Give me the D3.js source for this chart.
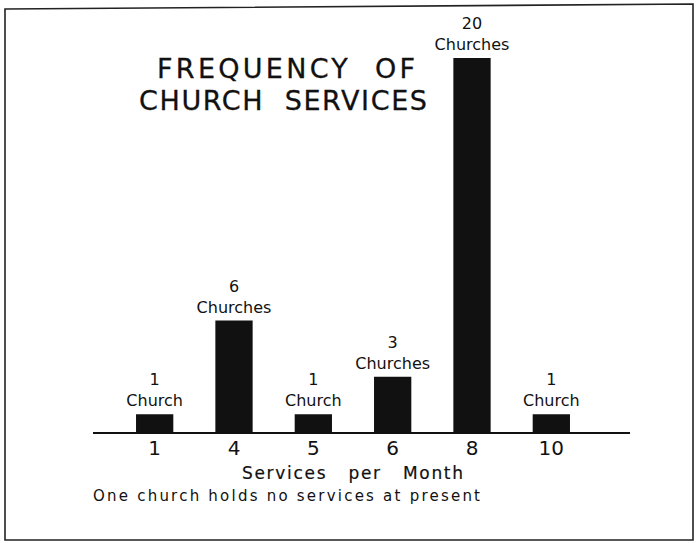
<!DOCTYPE html>
<html>
<head>
<meta charset="utf-8">
<script src="https://cdn.jsdelivr.net/npm/d3@7"></script>
<style>
  body { margin: 0; background: #fff; }
  text { font-family: "DejaVu Sans", sans-serif; fill: #111; }
</style>
</head>
<body>
<svg id="chart" width="696" height="543"></svg>
<script>
const services = ["1", "4", "5", "6", "8", "10"];
const churches = [1, 6, 1, 3, 20, 1];
const countLabels = ["1", "6", "1", "3", "20", "1"];
const wordLabels = ["Church", "Churches", "Church", "Churches", "Churches", "Church"];
const titleLines = ["FREQUENCY  OF", "CHURCH  SERVICES"];

const svg = d3.select("#chart");

// frame around the plate (scan is slightly crooked)
svg.append("path")
    .attr("d", "M5,9 L693,4 L693,540 L5,540 Z")
    .attr("fill", "none")
    .attr("stroke", "#222")
    .attr("stroke-width", 1.6);

const x = d3.scaleBand()
    .domain(services)
    .range([115, 591])
    .paddingInner(0.53)
    .paddingOuter(0.265);

const y = d3.scaleLinear()
    .domain([0, 20])
    .range([433, 58]);

// title, spread out like hand lettering
const titleX = [157, 139];
const titleW = [258, 288];
svg.append("g")
    .selectAll("text")
    .data(titleLines)
    .enter().append("text")
    .attr("x", (d, i) => titleX[i])
    .attr("y", (d, i) => 78 + i * 32)
    .attr("textLength", (d, i) => titleW[i])
    .attr("lengthAdjust", "spacing")
    .style("font-size", "27px")
    .style("white-space", "pre")
    .attr("stroke", "#111")
    .attr("stroke-width", 0.3)
    .text(d => d);

// bars
svg.append("g")
    .selectAll("rect")
    .data(churches)
    .enter().append("rect")
    .attr("x", (d, i) => x(services[i]))
    .attr("y", d => y(d))
    .attr("width", x.bandwidth())
    .attr("height", d => y(0) - y(d))
    .attr("fill", "#111");

// labels over bars
const lab = svg.append("g")
    .selectAll("g")
    .data(churches)
    .enter().append("g")
    .attr("transform", (d, i) => `translate(${x(services[i]) + x.bandwidth() / 2},${y(d)})`);

lab.append("text")
    .attr("y", -29)
    .attr("text-anchor", "middle")
    .style("font-size", "16px")
    .text((d, i) => countLabels[i]);

lab.append("text")
    .attr("y", -8)
    .attr("text-anchor", "middle")
    .style("font-size", "16px")
    .text((d, i) => wordLabels[i]);

// baseline + category axis
const axis = svg.append("g")
    .attr("transform", `translate(0,${y(0)})`)
    .call(d3.axisBottom(x).tickSize(0).tickPadding(8));
axis.select(".domain").remove();
axis.selectAll("text")
    .style("font-size", "20px")
    .attr("fill", "#111")
    .style("font-family", "'DejaVu Sans', sans-serif");

svg.append("line")
    .attr("x1", 93)
    .attr("x2", 630)
    .attr("y1", y(0))
    .attr("y2", y(0))
    .attr("stroke", "#111")
    .attr("stroke-width", 2);

svg.append("text")
    .attr("x", 242)
    .attr("y", 479)
    .attr("textLength", 221)
    .attr("lengthAdjust", "spacing")
    .style("font-size", "17px")
    .style("white-space", "pre")
    .attr("stroke", "#111")
    .attr("stroke-width", 0.2)
    .text("Services   per   Month");

svg.append("text")
    .attr("x", 93)
    .attr("y", 501)
    .attr("textLength", 387)
    .attr("lengthAdjust", "spacing")
    .style("font-size", "15px")
    .text("One church holds no services at present");
</script>
</body>
</html>
